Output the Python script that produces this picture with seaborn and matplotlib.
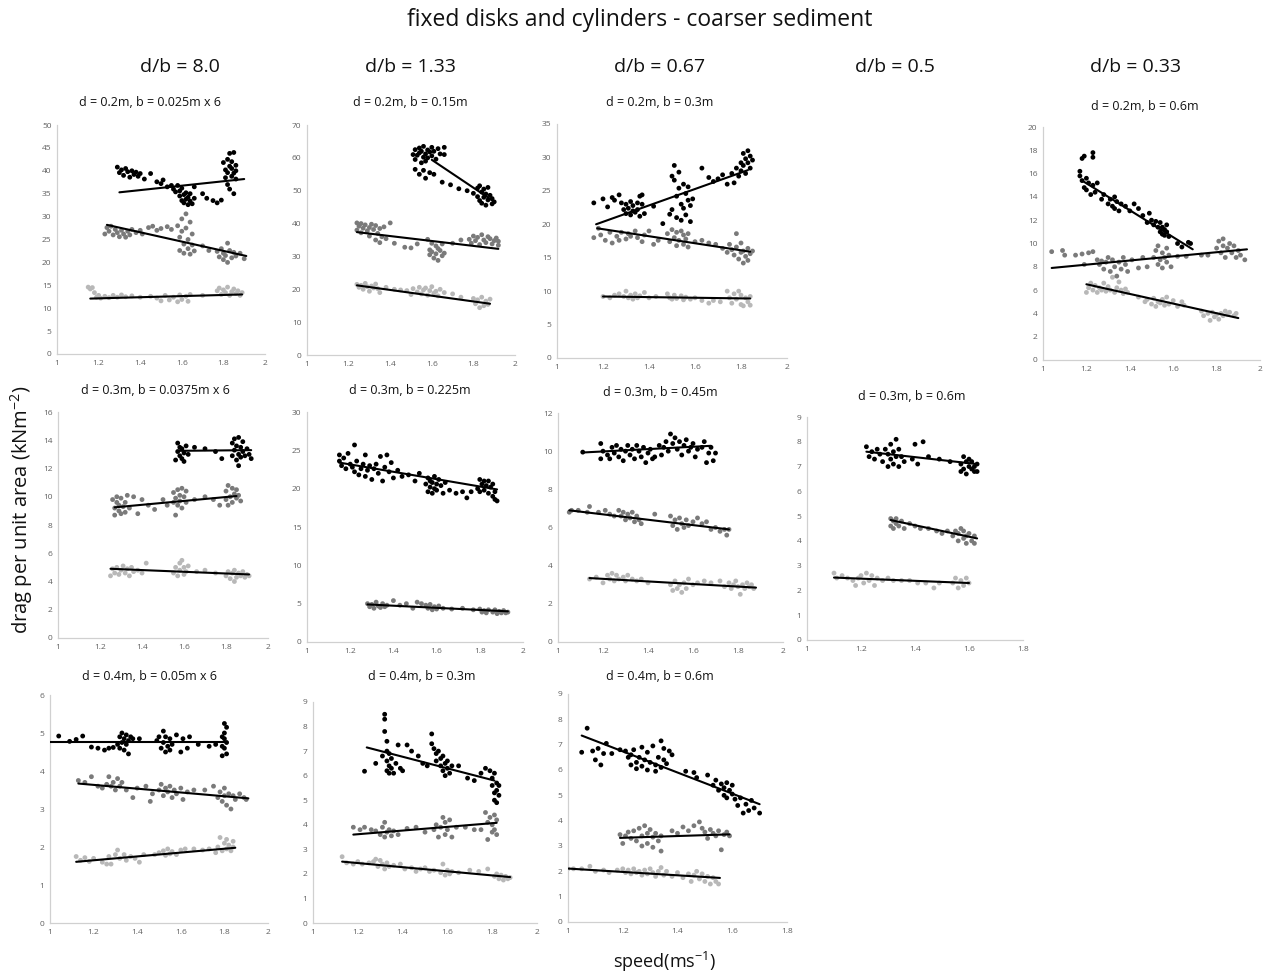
import matplotlib
matplotlib.use("Agg")
import matplotlib.pyplot as plt
import numpy as np
import pandas as pd
import seaborn as sns

# ---------------- DATA (speed m/s, drag kN/m^2) ----------------
P1_K = [(1.29,40.8),(1.30,39.6),(1.31,40.2),(1.32,39.0),(1.33,40.5),(1.34,39.8),(1.35,38.6),(1.36,40.0),(1.37,39.2),(1.38,39.7),(1.39,38.8),(1.40,39.4),(1.42,38.2),(1.45,39.4),
        (1.48,37.6),(1.50,37.2),(1.51,38.0),(1.53,36.5),(1.55,36.8),(1.56,36.0),(1.57,35.4),
        (1.58,36.8),(1.59,34.5),(1.59,35.6),(1.60,33.5),(1.60,36.2),(1.61,34.8),(1.61,33.0),(1.62,35.2),(1.62,33.8),(1.63,32.6),(1.63,34.2),(1.64,33.4),(1.64,35.0),(1.65,32.8),(1.66,34.0),(1.66,36.5),
        (1.70,35.0),(1.72,34.0),(1.75,33.5),(1.77,33.0),(1.79,33.6),
        (1.80,41.8),(1.81,40.2),(1.81,38.5),(1.82,42.5),(1.82,39.6),(1.82,37.0),(1.83,43.8),(1.83,41.0),(1.83,36.0),(1.84,40.5),(1.84,42.0),(1.84,38.8),(1.85,44.0),(1.85,39.5),(1.85,35.0),(1.86,41.2),(1.86,40.0),(1.86,38.2)]
P1_G = [(1.23,26.2),(1.24,27.6),(1.25,26.8),(1.26,27.9),(1.27,26.0),(1.28,27.2),(1.29,26.5),(1.30,25.6),(1.31,27.0),(1.32,26.2),(1.33,25.5),(1.34,26.8),(1.35,26.0),(1.36,27.2),(1.38,26.5),(1.40,27.0),(1.41,26.2),(1.44,27.6),(1.46,27.9),(1.48,27.0),(1.50,27.4),(1.53,27.8),(1.55,27.2),
        (1.58,28.0),(1.59,25.5),(1.59,22.6),(1.60,29.5),(1.60,26.8),(1.61,24.0),(1.61,22.0),(1.62,30.6),(1.62,27.5),(1.63,25.0),(1.63,23.0),(1.64,28.8),(1.64,21.8),(1.65,26.2),(1.65,23.8),(1.66,22.5),
        (1.70,23.6),(1.73,22.6),
        (1.77,22.4),(1.78,21.2),(1.79,23.0),(1.80,20.6),(1.80,22.0),(1.81,21.5),(1.82,24.2),(1.82,20.0),(1.83,22.6),(1.84,21.0),(1.85,22.2),(1.86,21.4),(1.88,22.0),(1.90,20.8)]
P1_L = [(1.15,14.6),(1.16,14.2),(1.17,14.5),(1.18,13.4),(1.19,12.4),(1.20,12.8),(1.21,12.2),(1.23,12.6),(1.25,12.3),(1.27,12.8),(1.29,12.4),(1.31,12.9),(1.33,12.5),(1.36,12.7),(1.40,12.4),(1.45,12.6),
        (1.48,12.2),(1.50,11.6),(1.52,12.8),(1.54,11.8),(1.56,12.4),(1.58,11.4),(1.59,12.9),(1.60,11.9),(1.62,12.6),(1.63,11.5),(1.64,13.0),(1.70,12.8),
        (1.77,13.8),(1.78,14.4),(1.79,13.0),(1.80,14.0),(1.81,13.4),(1.82,14.6),(1.83,12.8),(1.84,13.6),(1.85,14.2),(1.86,13.2),(1.87,13.8),(1.88,12.8),(1.89,13.4)]
T1 = [((1.30,35.3),(1.90,38.2)), ((1.24,28.2),(1.91,21.4)), ((1.16,12.1),(1.89,13.0))]

P2_K = [(1.51,61.0),(1.52,62.5),(1.52,59.5),(1.53,60.8),(1.54,63.0),(1.54,61.5),(1.55,58.5),(1.55,62.0),(1.56,60.2),(1.56,63.5),(1.57,61.2),(1.57,59.0),(1.58,62.4),(1.58,60.0),(1.59,61.8),(1.60,63.2),(1.60,60.6),(1.61,62.0),(1.62,59.6),(1.63,62.8),(1.64,61.2),(1.66,63.2),(1.66,61.0),
        (1.52,56.5),(1.54,55.0),(1.56,56.2),(1.57,53.8),(1.59,55.5),(1.61,55.0),(1.65,52.6),(1.69,51.8),(1.73,50.6),(1.77,50.0),
        (1.80,49.2),(1.82,50.8),(1.82,48.2),(1.83,51.5),(1.83,47.0),(1.84,49.6),(1.84,46.2),(1.85,50.5),(1.85,48.0),(1.86,45.6),(1.86,49.0),(1.87,51.0),(1.87,47.2),(1.88,48.6),(1.89,46.0),(1.89,47.6),(1.90,46.6)]
P2_G = [(1.24,40.2),(1.24,38.0),(1.25,39.2),(1.26,37.2),(1.26,40.0),(1.27,38.6),(1.28,39.6),(1.29,37.8),(1.30,38.8),(1.30,36.2),(1.31,39.8),(1.32,38.2),(1.33,35.0),(1.33,39.4),(1.34,37.0),(1.35,34.2),(1.35,38.5),(1.36,36.0),(1.37,39.0),(1.40,40.2),(1.38,35.4),
        (1.42,34.0),(1.47,32.8),(1.50,32.6),(1.53,33.8),
        (1.58,35.2),(1.59,32.0),(1.59,30.5),(1.60,34.0),(1.60,31.4),(1.61,29.5),(1.62,33.2),(1.62,30.8),(1.63,32.4),(1.63,28.8),(1.64,31.8),(1.65,30.2),(1.65,33.8),(1.66,31.0),
        (1.70,34.0),(1.74,35.0),
        (1.78,35.2),(1.79,34.0),(1.80,36.2),(1.81,34.8),(1.82,35.8),(1.83,33.6),(1.84,36.6),(1.85,35.0),(1.86,34.2),(1.87,36.0),(1.88,35.4),(1.89,33.8),(1.90,34.8),(1.91,35.6),(1.92,33.4),(1.92,34.6)]
P2_L = [(1.24,21.5),(1.25,20.6),(1.26,21.2),(1.27,20.0),(1.28,21.8),(1.29,20.8),(1.30,19.4),(1.31,21.0),(1.32,20.4),(1.33,21.6),(1.34,20.2),(1.35,19.0),(1.38,20.6),(1.42,20.0),(1.45,19.8),
        (1.48,19.6),(1.50,18.4),(1.51,20.2),(1.53,19.2),(1.54,20.6),(1.55,18.6),(1.56,19.8),(1.57,20.4),(1.58,18.2),(1.59,19.6),(1.60,20.8),(1.61,18.8),(1.62,19.4),(1.63,18.0),(1.64,20.0),(1.66,19.0),(1.70,18.6),(1.74,17.6),
        (1.80,17.2),(1.81,15.6),(1.82,16.8),(1.83,14.4),(1.84,17.6),(1.85,15.0),(1.86,16.4),(1.87,15.4),(1.88,17.0)]
T2 = [((1.60,59.4),(1.89,47.1)), ((1.24,37.4),(1.92,32.3)), ((1.24,21.2),(1.88,15.6))]

P3_K = [(1.16,23.2),(1.20,23.8),(1.22,22.6),(1.24,24.0),(1.25,23.6),(1.27,24.4),(1.28,23.2),
        (1.29,22.2),(1.30,21.6),(1.30,23.0),(1.31,22.4),(1.32,21.4),(1.32,23.4),(1.33,22.0),(1.33,22.8),(1.34,21.8),(1.35,23.2),(1.35,22.2),(1.36,21.2),(1.36,24.2),(1.37,23.0),(1.38,21.6),(1.37,24.4),
        (1.42,22.7),(1.46,20.1),
        (1.49,21.5),(1.50,27.2),(1.50,22.2),(1.51,28.8),(1.51,26.6),(1.52,24.2),(1.52,21.0),(1.53,27.8),(1.53,25.4),(1.54,23.0),(1.54,20.6),(1.55,26.0),(1.55,22.4),(1.56,24.6),(1.56,21.4),(1.57,23.6),(1.57,25.6),(1.58,22.8),(1.58,20.4),(1.59,23.8),
        (1.63,28.4),(1.66,27.0),(1.68,26.4),(1.70,26.8),(1.72,27.4),(1.74,26.0),
        (1.76,27.6),(1.77,26.2),(1.78,28.4),(1.79,27.2),(1.80,29.2),(1.80,28.0),(1.81,30.6),(1.81,28.8),(1.82,29.8),(1.82,27.6),(1.83,31.0),(1.83,29.2),(1.84,30.2),(1.84,28.4),(1.85,29.6)]
P3_G = [(1.16,18.0),(1.18,19.4),(1.19,18.4),(1.21,17.6),(1.23,18.8),(1.24,17.2),(1.26,18.2),(1.27,17.6),(1.28,18.8),(1.30,17.8),(1.31,18.6),(1.32,18.2),(1.34,19.0),(1.35,18.0),(1.37,17.4),(1.38,18.4),(1.40,19.0),(1.42,17.0),(1.44,17.6),
        (1.48,18.6),(1.49,17.4),(1.50,19.2),(1.51,18.0),(1.52,16.8),(1.52,18.8),(1.53,17.6),(1.54,19.0),(1.55,17.0),(1.55,18.4),(1.56,17.8),(1.57,16.6),(1.57,18.6),
        (1.60,17.4),(1.63,17.6),(1.66,17.2),(1.69,17.0),
        (1.72,16.4),(1.74,15.8),(1.75,17.0),(1.76,16.2),(1.77,15.4),(1.78,18.6),(1.78,16.6),(1.79,14.8),(1.80,15.8),(1.80,17.2),(1.81,14.2),(1.81,16.0),(1.82,15.2),(1.83,16.4),(1.83,14.6),(1.84,15.6),(1.85,16.0)]
P3_L = [(1.20,9.2),(1.23,9.0),(1.25,9.4),(1.27,9.6),(1.29,9.2),(1.30,10.0),(1.31,9.0),(1.32,9.4),(1.33,8.8),(1.34,9.6),(1.35,9.0),(1.36,9.3),(1.38,9.8),(1.40,9.0),(1.43,9.2),
        (1.48,9.6),(1.49,9.0),(1.50,8.8),(1.51,9.4),(1.52,8.9),(1.54,9.3),(1.55,8.7),(1.56,9.1),(1.58,8.8),(1.60,9.0),(1.63,8.6),(1.66,8.2),(1.68,8.6),(1.71,8.4),
        (1.74,10.0),(1.75,9.0),(1.76,8.2),(1.77,9.6),(1.78,8.8),(1.79,10.0),(1.80,8.0),(1.80,9.4),(1.81,7.8),(1.82,9.0),(1.83,8.4),(1.84,9.2),(1.84,7.9)]
T3 = [((1.17,20.0),(1.83,28.1)), ((1.175,19.4),(1.84,15.9)), ((1.20,9.2),(1.84,8.9))]

P4_K = [(1.17,16.2),(1.18,17.3),(1.19,17.5),(1.17,15.8),(1.23,17.4),(1.23,17.8),(1.18,15.4),(1.19,14.8),(1.20,15.6),(1.20,14.6),(1.21,15.2),(1.22,14.2),(1.23,15.0),(1.24,14.4),(1.25,15.2),
        (1.27,13.8),(1.28,14.2),(1.30,13.4),(1.31,13.8),(1.32,13.2),(1.33,14.0),(1.33,13.0),(1.34,13.6),(1.35,12.8),(1.36,13.4),(1.38,13.2),(1.40,12.8),(1.42,13.4),(1.44,13.0),(1.46,12.4),(1.48,11.8),(1.49,12.6),(1.50,12.0),(1.51,11.6),(1.52,11.9),
        (1.53,11.4),(1.54,11.0),(1.54,11.8),(1.55,10.8),(1.55,11.4),(1.56,11.2),(1.56,10.7),(1.57,11.0),(1.57,11.6),(1.58,10.6),
        (1.62,10.0),(1.64,9.7),(1.67,10.1),(1.68,10.0)]
P4_G = [(1.04,9.3),(1.09,9.4),(1.10,9.0),(1.15,9.0),(1.18,9.1),(1.19,8.2),(1.21,9.2),(1.23,9.3),(1.25,8.6),(1.26,8.2),(1.27,8.5),(1.28,7.8),(1.29,8.4),(1.30,8.8),(1.31,7.6),(1.32,8.6),(1.33,8.0),(1.34,7.2),(1.35,8.4),(1.36,7.8),(1.37,8.8),(1.38,8.2),(1.39,7.6),(1.41,8.6),(1.44,7.9),(1.46,8.8),(1.48,8.0),
        (1.51,8.8),(1.52,9.4),(1.53,8.2),(1.53,9.8),(1.54,8.6),(1.55,9.2),(1.55,7.9),(1.56,8.8),(1.57,9.6),(1.57,8.4),(1.58,9.0),(1.59,8.0),
        (1.62,8.9),(1.66,8.9),(1.73,9.0),(1.76,9.0),
        (1.80,9.6),(1.81,10.2),(1.82,9.2),(1.83,10.4),(1.83,9.8),(1.84,8.8),(1.85,9.6),(1.86,10.0),(1.87,9.2),(1.88,9.8),(1.89,8.8),(1.90,9.4),(1.91,9.0),(1.93,8.6)]
P4_L = [(1.20,5.8),(1.21,6.2),(1.22,6.6),(1.23,6.0),(1.24,6.4),(1.25,5.8),(1.26,6.2),(1.27,6.0),(1.28,6.6),(1.29,5.9),(1.30,6.3),(1.31,6.0),(1.32,7.1),(1.33,5.8),(1.34,6.2),(1.35,6.7),(1.36,6.0),(1.37,5.7),(1.38,6.1),(1.39,5.8),
        (1.44,5.4),(1.47,5.0),(1.48,5.2),(1.50,4.8),(1.51,5.3),(1.52,4.6),(1.53,5.0),(1.54,4.9),(1.55,5.2),(1.56,4.7),(1.57,5.4),(1.58,4.8),(1.60,5.1),(1.62,4.6),(1.64,5.0),(1.65,4.7),
        (1.73,4.2),(1.74,3.8),(1.76,4.0),(1.77,3.4),(1.78,4.1),(1.79,3.7),(1.80,3.9),(1.81,3.5),(1.82,4.0),(1.83,3.8),(1.84,4.2),(1.85,3.9),(1.86,4.1),(1.88,3.8),(1.89,4.0)]
T4 = [((1.18,15.4),(1.69,9.5)), ((1.04,7.9),(1.94,9.5)), ((1.20,6.5),(1.90,3.6))]

P5_K = [(1.56,12.6),(1.57,13.2),(1.57,13.8),(1.58,12.9),(1.58,13.5),(1.59,12.7),(1.59,13.4),(1.60,12.5),(1.60,13.1),(1.61,13.6),(1.62,13.0),
        (1.65,13.5),(1.70,13.4),(1.75,13.2),(1.78,12.7),
        (1.83,13.8),(1.83,12.9),(1.84,14.1),(1.84,13.3),(1.85,12.6),(1.85,13.6),(1.86,14.2),(1.86,13.0),(1.86,12.2),(1.87,13.5),(1.87,12.8),(1.88,13.9),(1.88,13.2),(1.89,12.9),(1.90,13.4),(1.91,13.0),(1.92,12.7)]
P5_G = [(1.26,9.8),(1.27,9.2),(1.27,8.7),(1.28,9.6),(1.28,10.0),(1.29,9.0),(1.29,9.4),(1.30,8.8),(1.30,9.9),(1.31,9.3),(1.32,9.6),(1.32,8.9),(1.33,10.1),(1.34,9.2),
        (1.36,10.0),(1.38,8.8),(1.40,9.8),(1.43,9.4),(1.46,9.1),(1.50,9.8),(1.52,9.4),
        (1.55,9.6),(1.55,10.3),(1.56,8.7),(1.56,9.9),(1.57,10.5),(1.57,9.4),(1.58,10.1),(1.58,9.7),(1.59,10.6),(1.59,9.2),(1.60,10.0),(1.61,9.6),(1.61,10.4),
        (1.65,9.8),(1.70,10.0),(1.74,9.8),(1.77,9.4),
        (1.80,9.8),(1.80,10.4),(1.81,9.4),(1.81,10.8),(1.82,10.0),(1.83,10.6),(1.83,9.6),(1.84,10.2),(1.85,9.9),(1.85,10.5),(1.86,10.1),(1.87,9.7)]
P5_L = [(1.25,4.4),(1.26,4.9),(1.27,4.6),(1.28,5.0),(1.29,4.5),(1.30,4.8),(1.31,5.1),(1.32,4.6),(1.33,4.9),(1.34,4.4),(1.35,5.0),(1.36,4.7),(1.38,4.8),(1.40,4.6),(1.42,5.3),
        (1.55,4.6),(1.56,5.0),(1.57,4.4),(1.58,5.3),(1.58,4.8),(1.59,5.5),(1.60,4.5),(1.60,5.0),(1.61,4.7),(1.62,5.1),
        (1.66,4.7),(1.70,4.8),(1.75,4.6),
        (1.80,4.4),(1.81,4.7),(1.82,4.2),(1.83,4.6),(1.84,4.0),(1.84,4.8),(1.85,4.3),(1.86,4.6),(1.87,4.4),(1.88,4.7),(1.89,4.3),(1.90,4.5),(1.91,4.4)]
T5 = [((1.57,13.25),(1.92,13.3)), ((1.27,9.25),(1.85,10.05)), ((1.25,4.9),(1.91,4.5))]

P6_K = [(1.15,24.4),(1.15,23.6),(1.16,23.0),(1.17,24.0),(1.18,22.6),(1.19,24.6),(1.20,23.2),(1.21,22.8),(1.22,25.7),(1.22,22.2),(1.23,23.6),(1.24,21.8),(1.25,22.6),(1.26,23.2),(1.27,21.6),(1.27,24.4),(1.28,22.4),(1.29,23.0),(1.30,21.2),(1.31,22.6),(1.32,23.2),(1.33,22.0),(1.34,24.2),(1.35,21.0),(1.36,22.8),(1.37,24.4),(1.38,22.2),(1.39,23.4),(1.40,21.4),(1.42,22.4),(1.44,21.6),(1.47,21.8),(1.50,21.0),(1.52,22.0),
        (1.55,20.6),(1.56,19.6),(1.56,21.4),(1.57,20.2),(1.57,21.0),(1.58,19.4),(1.58,20.8),(1.59,21.6),(1.59,20.0),(1.60,19.8),(1.60,20.6),(1.61,21.2),(1.62,20.4),(1.63,19.4),(1.64,20.8),
        (1.66,19.8),(1.69,19.4),(1.72,19.6),(1.74,18.8),(1.76,19.6),
        (1.79,20.0),(1.80,21.2),(1.80,19.6),(1.81,20.6),(1.82,19.8),(1.82,21.0),(1.83,20.4),(1.84,19.4),(1.84,21.0),(1.85,20.2),(1.86,19.0),(1.86,20.6),(1.87,18.6),(1.87,19.6),(1.88,18.4)]
P6_G = [(1.28,5.0),(1.29,4.6),(1.30,4.9),(1.31,4.4),(1.32,5.2),(1.33,4.7),(1.34,4.5),(1.35,5.0),(1.36,4.6),(1.37,4.8),(1.40,5.4),(1.43,4.8),(1.46,5.0),(1.49,4.4),(1.51,5.2),(1.53,5.0),
        (1.55,4.8),(1.56,4.4),(1.57,4.9),(1.58,4.2),(1.59,4.6),(1.60,4.3),(1.61,4.7),(1.63,4.4),(1.67,4.3),(1.72,4.4),(1.77,4.2),
        (1.80,4.3),(1.81,3.9),(1.82,4.1),(1.83,3.8),(1.84,4.2),(1.86,3.9),(1.87,4.2),(1.88,3.7),(1.89,4.0),(1.90,3.8),(1.91,4.1),(1.92,3.8),(1.93,3.9)]
P6_L = []
T6 = [((1.15,23.4),(1.88,19.9)), ((1.28,4.9),(1.93,4.0))]

P7_K = [(1.11,9.95),(1.19,10.4),(1.19,9.6),(1.20,10.0),(1.22,9.8),(1.23,9.6),(1.24,10.2),(1.25,9.9),(1.26,10.3),(1.27,9.7),(1.28,10.1),(1.29,9.5),(1.30,10.0),(1.31,10.3),(1.32,9.8),(1.33,10.1),(1.34,9.6),(1.35,10.3),(1.36,10.0),(1.37,9.7),(1.38,10.2),(1.39,9.4),(1.40,9.9),(1.41,10.1),(1.42,9.6),(1.43,9.7),(1.45,10.3),(1.46,9.8),(1.47,10.2),(1.48,10.5),(1.49,10.0),(1.50,10.9),(1.51,10.4),(1.52,10.7),(1.53,10.1),(1.54,10.5),(1.55,9.8),(1.56,10.3),(1.57,10.6),(1.58,10.0),(1.59,10.2),(1.60,10.4),(1.61,9.7),(1.62,10.1),(1.64,10.2),(1.65,10.5),(1.66,9.4),(1.67,9.9),(1.68,10.2),(1.69,9.5),(1.70,9.9)]
P7_G = [(1.05,6.8),(1.06,6.9),(1.09,6.9),(1.13,6.8),(1.14,7.1),(1.18,6.8),(1.21,6.9),(1.23,6.7),(1.25,6.6),(1.27,6.9),(1.28,6.6),(1.29,6.8),(1.30,6.4),(1.31,6.7),(1.32,6.5),(1.33,6.8),(1.34,6.3),(1.35,6.6),(1.36,6.4),(1.37,6.2),(1.43,6.7),
        (1.50,6.6),(1.51,6.1),(1.52,6.4),(1.53,5.9),(1.54,6.5),(1.55,6.2),(1.56,6.0),(1.57,6.4),(1.58,6.1),(1.60,6.3),(1.62,6.5),(1.64,6.2),(1.66,6.3),(1.68,5.9),(1.70,6.0),(1.72,5.8),(1.74,5.9),(1.75,5.6),(1.76,5.9)]
P7_L = [(1.14,3.3),(1.17,3.4),(1.20,3.1),(1.22,3.5),(1.23,3.3),(1.24,3.6),(1.25,3.2),(1.26,3.5),(1.27,3.3),(1.29,3.4),(1.30,3.2),(1.31,3.5),(1.33,3.3),(1.35,3.2),(1.37,3.3),(1.40,3.1),
        (1.50,3.0),(1.51,2.7),(1.52,3.2),(1.53,2.8),(1.54,3.0),(1.55,2.6),(1.56,3.1),(1.57,2.8),(1.58,3.3),(1.60,3.0),(1.62,3.1),(1.65,3.2),(1.68,3.1),(1.72,3.2),
        (1.74,2.9),(1.76,3.1),(1.77,2.8),(1.78,3.0),(1.79,3.2),(1.80,2.9),(1.81,2.5),(1.82,3.0),(1.83,2.8),(1.84,3.1),(1.85,2.9),(1.86,3.0),(1.87,2.8)]
T7 = [((1.11,9.93),(1.68,10.28)), ((1.05,6.9),(1.76,5.9)), ((1.14,3.35),(1.88,2.85))]

P8_K = [(1.22,7.8),(1.23,7.4),(1.24,7.6),(1.25,7.3),(1.26,7.7),(1.27,7.5),(1.28,7.2),(1.29,7.7),(1.30,7.0),(1.30,7.5),(1.31,7.9),(1.31,7.3),(1.32,7.6),(1.32,7.1),(1.33,8.1),(1.33,7.4),(1.34,7.0),(1.34,7.7),(1.35,7.4),(1.36,7.2),
        (1.39,7.3),(1.40,7.9),(1.41,7.1),(1.43,8.0),(1.45,7.4),(1.49,7.3),(1.53,7.2),
        (1.57,7.1),(1.57,6.8),(1.58,7.4),(1.58,6.9),(1.59,7.2),(1.59,6.7),(1.60,7.0),(1.60,7.3),(1.61,6.9),(1.61,7.2),(1.62,7.0),(1.62,6.8),(1.63,7.1),(1.63,6.8)]
P8_G = [(1.31,4.9),(1.31,4.6),(1.32,4.8),(1.32,4.5),(1.33,4.9),(1.33,4.7),(1.34,4.6),(1.35,4.8),(1.36,4.5),(1.38,4.7),(1.40,4.6),(1.42,4.5),(1.45,4.5),(1.48,4.4),(1.50,4.3),(1.52,4.4),
        (1.54,4.2),(1.55,4.4),(1.56,4.0),(1.56,4.3),(1.57,4.5),(1.58,4.1),(1.58,4.4),(1.59,3.9),(1.59,4.2),(1.60,4.3),(1.61,4.0),(1.62,4.2),(1.62,3.9)]
P8_L = [(1.10,2.7),(1.11,2.5),(1.13,2.6),(1.15,2.5),(1.17,2.4),(1.18,2.2),(1.19,2.5),(1.20,2.6),(1.21,2.3),(1.22,2.7),(1.23,2.4),(1.24,2.6),(1.25,2.2),(1.26,2.5),(1.28,2.4),(1.30,2.5),(1.32,2.4),(1.35,2.4),(1.38,2.4),(1.41,2.3),(1.44,2.3),(1.47,2.1),(1.49,2.3),
        (1.54,2.3),(1.55,2.5),(1.56,2.1),(1.57,2.4),(1.58,2.2),(1.59,2.5),(1.60,2.3)]
T8 = [((1.22,7.6),(1.63,7.1)), ((1.31,4.84),(1.63,4.1)), ((1.10,2.52),(1.60,2.3))]

P9_K = [(1.04,4.92),(1.09,4.78),(1.12,4.83),(1.15,4.92),(1.19,4.63),(1.22,4.6),(1.25,4.55),(1.27,4.6),(1.29,4.62),
        (1.31,4.7),(1.32,4.9),(1.32,4.6),(1.33,5.0),(1.33,4.75),(1.34,4.85),(1.34,4.55),(1.35,4.95),(1.35,4.7),(1.36,4.8),(1.36,4.45),(1.37,4.9),(1.38,4.85),(1.41,4.85),
        (1.49,4.8),(1.50,4.9),(1.51,4.6),(1.52,5.05),(1.52,4.75),(1.53,4.5),(1.53,4.9),(1.54,4.65),(1.55,4.85),(1.55,4.55),(1.56,4.7),(1.58,4.95),(1.60,4.5),(1.61,4.85),(1.63,4.6),(1.64,4.9),(1.68,4.7),(1.73,4.65),(1.76,4.7),
        (1.79,4.4),(1.79,4.9),(1.80,5.25),(1.80,4.6),(1.80,5.0),(1.81,4.75),(1.81,5.15),(1.81,4.45),(1.80,4.85),(1.79,4.65)]
P9_G = [(1.13,3.75),(1.16,3.7),(1.19,3.85),(1.22,3.6),(1.24,3.55),(1.26,3.65),(1.27,3.85),(1.28,3.6),(1.29,3.7),(1.30,3.5),(1.31,3.8),(1.32,3.6),(1.33,3.7),(1.35,3.5),(1.38,3.3),(1.40,3.55),(1.44,3.6),(1.46,3.2),(1.47,3.4),
        (1.50,3.5),(1.51,3.65),(1.52,3.35),(1.53,3.55),(1.54,3.45),(1.55,3.6),(1.56,3.3),(1.57,3.5),(1.58,3.4),(1.60,3.55),(1.61,3.25),(1.63,3.45),(1.66,3.5),(1.71,3.5),(1.75,3.6),
        (1.77,3.3),(1.78,3.45),(1.79,3.2),(1.80,3.55),(1.80,3.35),(1.81,3.1),(1.82,3.4),(1.83,3.0),(1.84,3.35),(1.85,3.25),(1.87,3.4),(1.89,3.3),(1.90,3.25)]
P9_L = [(1.12,1.75),(1.14,1.65),(1.16,1.72),(1.18,1.62),(1.20,1.7),(1.24,1.6),(1.26,1.55),(1.27,1.75),(1.28,1.55),(1.30,1.8),(1.31,1.92),(1.32,1.7),(1.34,1.8),(1.35,1.65),(1.37,1.75),(1.39,1.7),(1.41,1.6),(1.43,1.8),
        (1.48,1.8),(1.50,1.85),(1.52,1.9),(1.53,1.78),(1.54,1.95),(1.55,1.82),(1.56,1.88),(1.58,1.8),(1.60,1.92),(1.62,1.95),(1.66,1.95),(1.70,1.92),(1.73,1.95),
        (1.76,1.85),(1.77,2.0),(1.78,2.25),(1.79,1.9),(1.80,2.1),(1.81,1.95),(1.81,2.2),(1.82,2.05),(1.83,1.9),(1.84,2.15),(1.84,2.0)]
T9 = [((1.00,4.77),(1.81,4.77)), ((1.13,3.67),(1.91,3.28)), ((1.12,1.61),(1.85,1.98))]

P10_K = [(1.23,6.18),(1.28,6.5),(1.31,6.8),(1.32,8.5),(1.32,8.3),(1.32,7.8),(1.33,7.4),(1.33,7.0),(1.33,6.6),(1.33,6.2),(1.34,6.9),(1.34,6.4),(1.34,6.1),(1.35,6.7),(1.35,6.3),(1.36,6.1),(1.37,6.5),(1.38,7.25),(1.39,6.3),(1.40,6.2),(1.42,7.25),(1.44,7.0),(1.47,6.8),(1.49,6.5),(1.51,6.4),
         (1.53,7.7),(1.53,7.3),(1.54,7.1),(1.55,6.9),(1.55,6.6),(1.56,7.0),(1.57,6.7),(1.57,6.4),(1.58,6.8),(1.58,6.2),(1.59,6.5),(1.59,6.0),(1.60,6.3),(1.60,6.6),(1.61,6.1),(1.62,6.4),(1.65,6.4),
         (1.69,5.9),(1.72,5.8),(1.75,6.1),(1.77,6.3),
         (1.79,6.2),(1.80,5.9),(1.80,5.6),(1.81,6.1),(1.81,5.3),(1.81,5.0),(1.82,5.7),(1.82,5.4),(1.82,4.9),(1.83,5.6),(1.83,5.2)]
P10_G = [(1.18,3.9),(1.21,3.8),(1.23,3.9),(1.26,3.8),(1.28,3.75),(1.30,3.6),(1.31,3.9),(1.32,3.5),(1.32,4.1),(1.33,3.7),(1.34,3.8),(1.35,3.55),(1.36,3.75),(1.38,3.6),(1.42,3.85),(1.46,3.9),(1.50,3.7),
         (1.54,3.8),(1.55,4.0),(1.56,3.5),(1.57,3.9),(1.58,4.3),(1.59,3.6),(1.59,4.1),(1.60,3.8),(1.61,4.2),(1.62,3.5),(1.64,3.9),(1.68,3.9),(1.72,3.8),(1.75,3.8),
         (1.77,4.5),(1.78,3.4),(1.78,4.1),(1.79,4.3),(1.80,3.7),(1.80,4.0),(1.81,4.4),(1.81,3.8),(1.82,4.2),(1.82,3.6)]
P10_L = [(1.13,2.7),(1.15,2.45),(1.18,2.4),(1.20,2.5),(1.22,2.4),(1.25,2.45),(1.27,2.5),(1.28,2.6),(1.29,2.3),(1.30,2.55),(1.31,2.4),(1.32,2.2),(1.33,2.45),(1.34,2.3),(1.36,2.35),(1.39,2.4),(1.41,2.2),(1.44,2.25),(1.46,2.1),(1.48,2.2),(1.50,2.25),(1.52,2.1),(1.54,2.15),
         (1.57,2.05),(1.58,2.4),(1.59,1.95),(1.60,2.15),(1.61,2.0),(1.62,2.1),(1.65,2.05),(1.70,2.15),(1.74,2.1),(1.78,2.2),
         (1.81,1.9),(1.82,2.0),(1.83,1.8),(1.84,1.95),(1.85,1.75),(1.86,1.9),(1.87,1.8),(1.88,1.85)]
T10 = [((1.24,7.15),(1.81,5.8)), ((1.18,3.6),(1.82,4.08)), ((1.13,2.5),(1.88,1.87))]

P11_K = [(1.05,6.7),(1.07,7.65),(1.09,6.75),(1.10,6.4),(1.11,6.85),(1.12,6.2),(1.13,6.65),(1.14,7.05),(1.16,6.65),
         (1.19,6.8),(1.21,6.75),(1.22,6.5),(1.23,6.2),(1.23,6.6),(1.24,6.8),(1.25,6.3),(1.25,6.05),(1.26,6.5),(1.27,6.9),(1.27,6.15),(1.28,6.4),(1.29,6.0),(1.29,6.7),(1.30,6.3),(1.31,6.95),(1.32,6.2),(1.32,5.95),(1.33,6.5),(1.34,7.15),(1.34,6.1),(1.35,6.4),(1.35,6.85),(1.36,6.25),(1.37,6.75),(1.38,6.6),
         (1.43,5.95),(1.46,5.9),(1.47,5.7),(1.51,5.8),(1.53,5.4),
         (1.54,5.6),(1.55,5.2),(1.56,5.45),(1.57,5.0),(1.57,5.3),(1.58,5.5),(1.58,4.9),(1.59,5.2),(1.60,5.05),(1.60,5.4),(1.61,4.85),(1.62,4.6),(1.63,4.9),(1.64,4.3),(1.65,4.65),(1.66,4.4),(1.67,4.8),(1.68,4.5),(1.70,4.3)]
P11_G = [(1.19,3.45),(1.20,3.1),(1.21,3.4),(1.22,3.55),(1.23,3.3),(1.24,3.6),(1.25,3.2),(1.26,3.7),(1.27,3.4),(1.27,3.0),(1.28,3.8),(1.29,3.5),(1.29,3.1),(1.30,3.65),(1.31,3.35),(1.31,2.95),(1.32,3.5),(1.33,3.2),(1.34,2.8),(1.34,3.4),
         (1.38,3.6),(1.40,3.5),(1.42,3.75),(1.44,3.6),(1.46,3.8),(1.48,3.95),(1.49,3.7),(1.50,3.55),(1.51,3.3),(1.52,3.65),(1.53,3.5),(1.54,3.4),(1.55,3.6),(1.56,2.85),(1.57,3.45),(1.58,3.55),(1.59,3.4)]
P11_L = [(1.00,2.1),(1.02,2.1),(1.05,2.1),(1.08,2.2),(1.10,2.0),(1.13,2.05),(1.15,1.95),(1.18,2.05),(1.20,2.1),(1.21,1.95),(1.22,2.05),(1.23,1.9),(1.24,2.1),(1.25,1.95),(1.26,2.0),(1.27,1.85),(1.28,2.05),(1.29,1.9),(1.30,2.1),(1.31,1.95),(1.32,1.8),(1.33,2.0),(1.34,2.15),(1.35,1.85),
         (1.36,2.0),(1.38,1.8),(1.40,1.95),(1.42,1.75),(1.44,1.9),(1.45,1.6),(1.46,1.85),(1.47,2.0),(1.48,1.7),(1.49,1.9),(1.50,1.6),(1.51,1.8),(1.52,1.5),(1.53,1.75),(1.54,1.6),(1.55,1.5)]
T11 = [((1.05,7.36),(1.70,4.65)), ((1.19,3.32),(1.59,3.46)), ((1.00,2.11),(1.555,1.74))]

TITLES = ["d = 0.2m, b = 0.025m x 6", "d = 0.2m, b = 0.15m", "d = 0.2m, b = 0.3m", "d = 0.2m, b = 0.6m",
          "d = 0.3m, b = 0.0375m x 6", "d = 0.3m, b = 0.225m", "d = 0.3m, b = 0.45m", "d = 0.3m, b = 0.6m",
          "d = 0.4m, b = 0.05m x 6", "d = 0.4m, b = 0.3m", "d = 0.4m, b = 0.6m"]
COL_HEADERS = ["d/b = 8.0", "d/b = 1.33", "d/b = 0.67", "d/b = 0.5", "d/b = 0.33"]
Y_MAX = [50, 70, 35, 20, 16, 30, 12, 9, 6, 9, 9]
Y_STEP = [5, 10, 5, 2, 2, 5, 2, 1, 1, 1, 1]
X_MAX = [2, 2, 2, 2, 2, 2, 2, 1.8, 2, 2, 1.8]

SERIES = [(P1_K, P1_G, P1_L, T1), (P2_K, P2_G, P2_L, T2), (P3_K, P3_G, P3_L, T3), (P4_K, P4_G, P4_L, T4),
          (P5_K, P5_G, P5_L, T5), (P6_K, P6_G, P6_L, T6), (P7_K, P7_G, P7_L, T7), (P8_K, P8_G, P8_L, T8),
          (P9_K, P9_G, P9_L, T9), (P10_K, P10_G, P10_L, T10), (P11_K, P11_G, P11_L, T11)]

# ---------------- LAYOUT (pixels: left, top, right, bottom of plot area) ----------------
W, H = 1271, 977
BOXES = [(57, 125, 265, 354), (307, 125, 515, 355), (557, 124, 787, 358), (1043, 127, 1260, 360),
         (58, 412, 268, 638), (307, 412, 523, 642), (558, 413, 783, 642), (807, 417, 1023, 640),
         (50, 695, 268, 923), (313, 702, 537, 923), (568, 694, 787, 922)]
TITLE_POS = [(150, 103), (410, 103), (660, 103), (1145, 106),
             (155, 390), (410, 390), (660, 393), (912, 396),
             (150, 677), (422, 677), (660, 677)]
HEADER_X = [180, 410, 660, 895, 1135]

COLORS = {"black": "#000000", "dark": "#7a7a7a", "light": "#b8b8b8"}

sns.set_theme(style="white")
plt.rcParams['font.family'] = ['Open Sans', 'DejaVu Sans']

fig = plt.figure(figsize=(W / 100, H / 100), dpi=100)
fig.patch.set_facecolor("white")

def fx(px):
    return px / W

def fy(py):
    return 1 - py / H

for i, (blk, drk, lgt, trends) in enumerate(SERIES):
    l, t, r, b = BOXES[i]
    ax = fig.add_axes([fx(l), fy(b), (r - l) / W, (b - t) / H])
    frames = []
    for name, pts in (("light", lgt), ("dark", drk), ("black", blk)):
        if pts:
            arr = np.array(pts)
            frames.append(pd.DataFrame({"speed": arr[:, 0], "drag": arr[:, 1], "series": name}))
    df = pd.concat(frames, ignore_index=True)
    sns.scatterplot(data=df, x="speed", y="drag", hue="series", palette=COLORS,
                    s=12, linewidth=0, legend=False, ax=ax, zorder=2)
    for (x0, y0), (x1, y1) in trends:
        sns.lineplot(x=[x0, x1], y=[y0, y1], color="black", linewidth=1.5,
                     ax=ax, estimator=None, zorder=3)
    ax.set_xlim(1, X_MAX[i])
    ax.set_ylim(0, Y_MAX[i])
    xt = np.round(np.arange(1, X_MAX[i] + 0.001, 0.2), 1)
    ax.set_xticks(xt)
    ax.set_xticklabels([f"{v:g}" for v in xt])
    yt = np.arange(0, Y_MAX[i] + 0.001, Y_STEP[i])
    ax.set_yticks(yt)
    ax.set_yticklabels([f"{int(v)}" for v in yt])
    ax.set_xlabel("")
    ax.set_ylabel("")
    for s in ("top", "right"):
        ax.spines[s].set_visible(False)
    for s in ("left", "bottom"):
        ax.spines[s].set_color("#d0d0d0")
        ax.spines[s].set_linewidth(0.9)
    ax.tick_params(axis="both", length=0, labelsize=6, labelcolor="#606060", pad=4)
    ax.set_facecolor("white")
    tx, ty = TITLE_POS[i]
    fig.text(fx(tx), fy(ty), TITLES[i], ha="center", va="center", fontsize=9, color="#111111")

for hx, txt in zip(HEADER_X, COL_HEADERS):
    fig.text(fx(hx), fy(67), txt, ha="center", va="center", fontsize=14, color="#111111")

fig.text(fx(640), fy(20), "fixed disks and cylinders - coarser sediment", ha="center", va="center",
         fontsize=16.5, color="#111111")
fig.text(fx(22), fy(510), "drag per unit area (kNm$^{\\mathregular{-2}}$)", ha="center", va="center",
         rotation=90, fontsize=14.5, color="#111111")
fig.text(fx(665), fy(962), "speed(ms$^{\\mathregular{-1}}$)", ha="center", va="center",
         fontsize=13, color="#111111")

fig.savefig("out.png", dpi=100, facecolor="white")
